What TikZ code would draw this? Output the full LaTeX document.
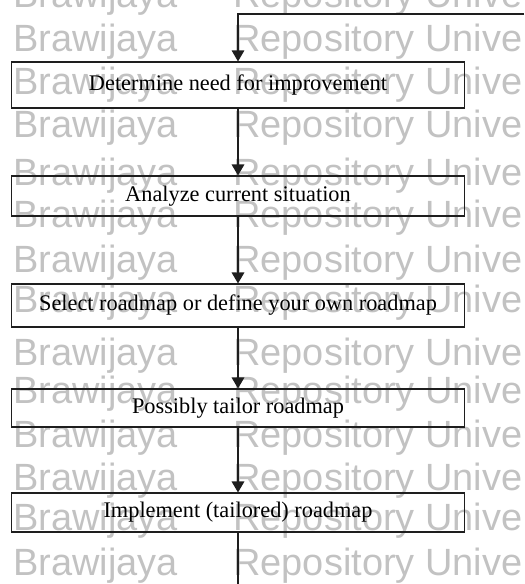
\documentclass[tikz,border=0pt]{standalone}
\usepackage{fontspec}
\setmainfont{Liberation Serif}
\newfontfamily\markfont{Liberation Sans}
\usetikzlibrary{arrows.meta,positioning,calc}
\definecolor{ink}{HTML}{1E1E1E}
\definecolor{faint}{HTML}{C2C2C2}

\begin{document}
\begin{tikzpicture}[x=0.02cm,y=-0.02cm,
  stepbox/.style={draw=ink,line width=0.6pt,minimum width=9.08cm,minimum height=0.8cm,inner sep=0pt,font=\fontsize{12.7}{15}\selectfont},
  wm/.style={text=faint,anchor=base west,inner sep=0pt,font=\markfont\fontsize{21.6}{24}\selectfont},
  flow/.style={ink,line width=0.9pt},
  >={Triangle[length=2.2mm,width=2.5mm]}]
\useasboundingbox (0,0) rectangle (524,584);
% repository watermark behind the chart
\begin{scope}
\clip (0,0) rectangle (524,584);
\foreach \y in {8,52,95,138,185,227,272,312,365,403,447,490,530,575}{
  \node[wm] (brand\y) at (13,\y) {Brawijaya};
  \node[wm] (repo\y) at (233,\y) {Repository Unive};
}
\end{scope}
\node[stepbox,minimum height=0.92cm] (need) at (238,85) {Determine need for improvement};
\node[stepbox] (analyze) at (238,196) {Analyze current situation};
\node[stepbox,minimum height=0.86cm] (select) at (238,305.5) {Select roadmap or define your own roadmap};
\node[stepbox,minimum height=0.76cm] (tailor) at (238,408) {Possibly tailor roadmap};
\node[stepbox,minimum height=0.78cm] (implement) at (238,512.5) {Implement (tailored) roadmap};
\coordinate (loopin) at (524,14);
\coordinate (looptop) at (238,14);
\coordinate (loopout) at (238,584);
\draw[->,flow,line width=0.6pt] (loopin)--(looptop)--(need.north);
\foreach \from/\to in {need/analyze,analyze/select,select/tailor,tailor/implement}
  \draw[->,flow] (\from.south)--(\to.north);
\draw[flow,line width=0.6pt] (implement.south)--(loopout);
\end{tikzpicture}
\end{document}
